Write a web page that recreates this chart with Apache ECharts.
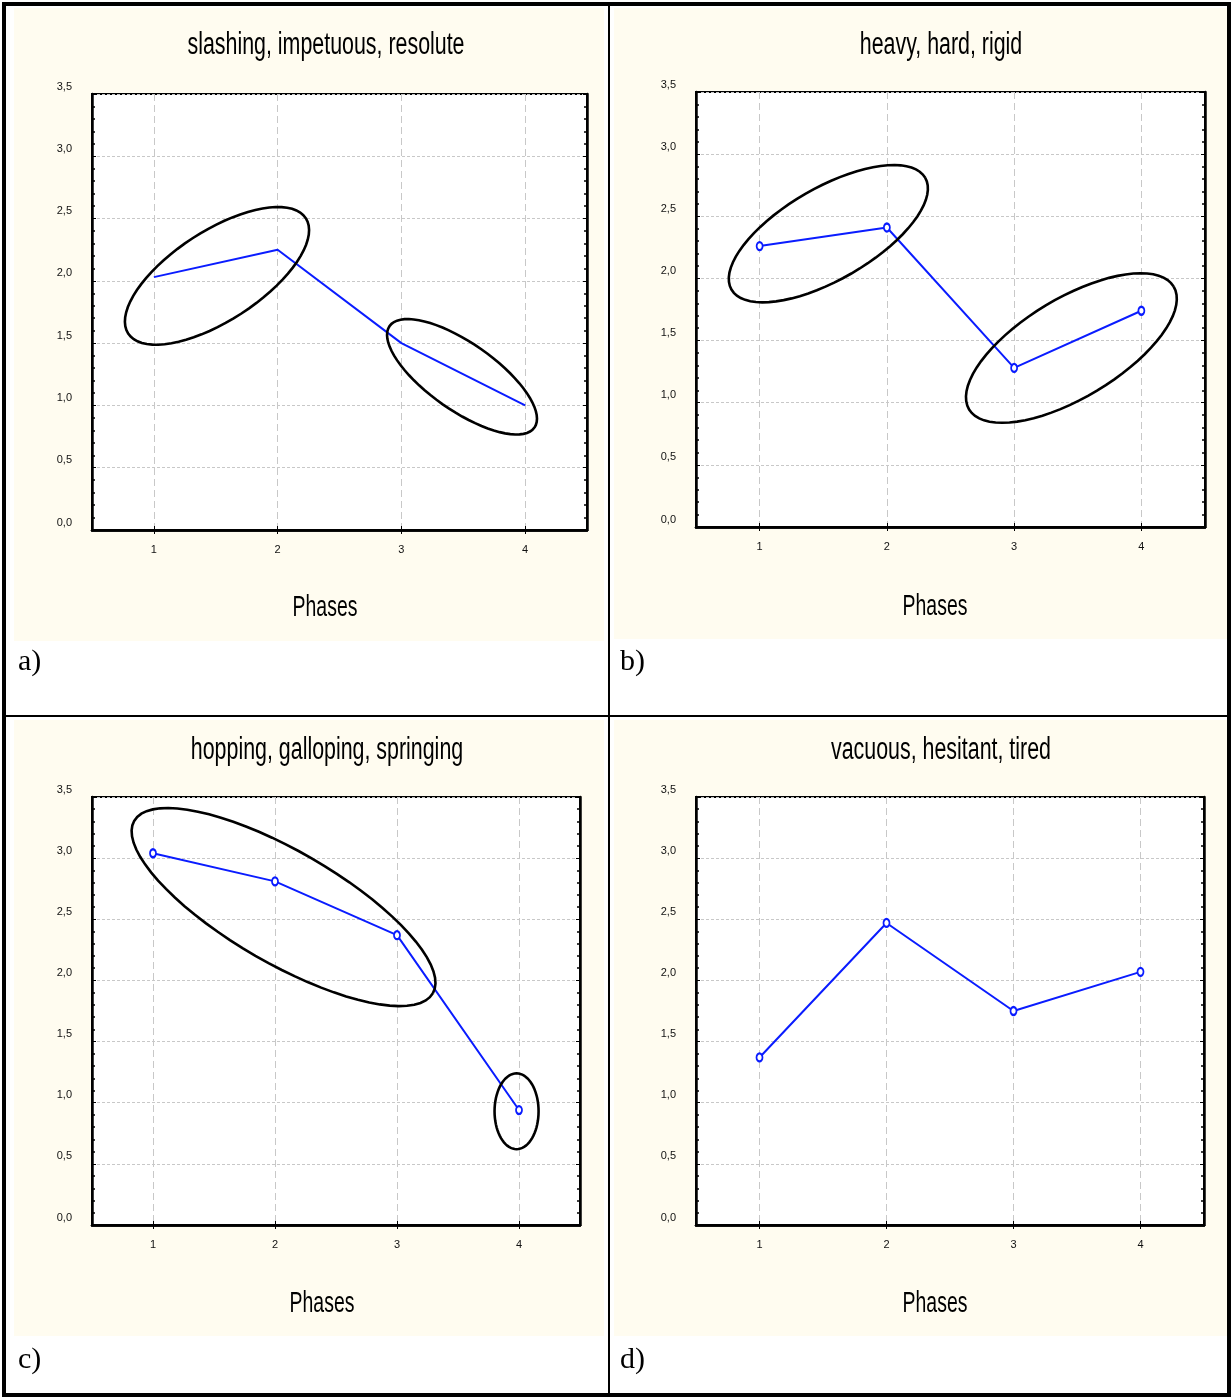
<!DOCTYPE html>
<html>
<head>
<meta charset="utf-8">
<script src="https://cdn.jsdelivr.net/npm/echarts@6/dist/echarts.min.js"></script>
<style>
html, body { margin: 0; padding: 0; background: #fff; }
#chart { width: 1232px; height: 1398px; }
</style>
</head>
<body>
<div id="chart"></div>
<script>
// ---------- data ----------
const CATEGORIES = ['1', '2', '3', '4'];
const TITLES = ['slashing, impetuous, resolute', 'heavy, hard, rigid', 'hopping, galloping, springing', 'vacuous, hesitant, tired'];
const PANEL_TAGS = ['a)', 'b)', 'c)', 'd)'];
const X_NAME = 'Phases';
const Y_MIN = 0, Y_MAX = 3.5, Y_STEP = 0.5;
const RATINGS_A = [2.03, 2.25, 1.50, 1.00];
const RATINGS_B = [2.26, 2.41, 1.28, 1.74];
const RATINGS_C = [3.04, 2.81, 2.37, 0.94];
const RATINGS_D = [1.37, 2.47, 1.75, 2.07];
// group ellipses: [centre phase, centre rating, semi-axis, semi-axis, tilt deg]
const ELLIPSES_A = [[1.51, 2.04, 0.85, 0.36, 33], [3.49, 1.23, 0.71, 0.27, -35]];
const ELLIPSES_B = [[1.54, 2.36, 0.90, 0.37, 30], [3.45, 1.44, 0.96, 0.40, 31]];
const ELLIPSES_C = [[2.07, 2.60, 1.41, 0.46, -30], [3.98, 0.93, 0.18, 0.31, 0]];
const ELLIPSES_D = [];
const SHOW_MARKERS = [false, true, true, true];

// ---------- layout ----------
const SERIES = [RATINGS_A, RATINGS_B, RATINGS_C, RATINGS_D];
const ELLIPSES = [ELLIPSES_A, ELLIPSES_B, ELLIPSES_C, ELLIPSES_D];
const GRIDS = [
  { left: 92, top: 94, width: 495, height: 436 },
  { left: 696, top: 92, width: 509, height: 435 },
  { left: 92, top: 797, width: 488, height: 428 },
  { left: 696, top: 797, width: 508, height: 428 }
];
const CREAM = [
  { x: 14, y: 8, w: 590, h: 633 },
  { x: 614, y: 8, w: 614, h: 631 },
  { x: 14, y: 720, w: 590, h: 616 },
  { x: 614, y: 720, w: 614, h: 616 }
];
const TITLE_POS = [[326, 45], [941, 45], [327, 750], [941, 750]];
const NAME_POS = [[325, 608], [935, 607], [322, 1304], [935, 1304]];
const TAG_POS = [[18, 662], [620, 662], [18, 1360], [620, 1360]];

const SANS = "'Liberation Sans', Arial, sans-serif";
const SERIF = "'Liberation Serif', 'DejaVu Serif', serif";
const BLUE = '#0a1cff';

const grid = GRIDS.map(g => Object.assign({
  show: true, backgroundColor: '#ffffff', borderColor: '#000', borderWidth: 2
}, g));

const xAxis = [];
const yAxis = [];
const series = [];
GRIDS.forEach((g, i) => {
  xAxis.push({
    type: 'category', gridIndex: i, data: CATEGORIES, boundaryGap: true, position: 'bottom',
    axisLine: { show: true, lineStyle: { color: '#000', width: 2.5 } },
    axisTick: { show: true, inside: true, alignWithLabel: true, length: 4, lineStyle: { color: '#000' } },
    axisLabel: { fontFamily: SANS, fontSize: 11, color: '#111', margin: 14 },
    splitLine: { show: true, alignWithLabel: true, lineStyle: { color: '#c8c8c8', type: [7, 4], width: 1 } }
  });
  xAxis.push({
    type: 'category', gridIndex: i, data: CATEGORIES, boundaryGap: true, position: 'top',
    axisLine: { show: true, lineStyle: { color: '#000', width: 2.5 } },
    axisTick: { show: true, inside: true, alignWithLabel: true, length: 4, lineStyle: { color: '#000' } },
    axisLabel: { show: false }, splitLine: { show: false }
  });
  yAxis.push({
    type: 'value', gridIndex: i, min: Y_MIN, max: Y_MAX, interval: Y_STEP, position: 'left',
    axisLine: { show: true, lineStyle: { color: '#000', width: 2.5 } },
    axisTick: { show: true, inside: true, length: 4, lineStyle: { color: '#000' } },
    minorTick: { show: true, splitNumber: 5, length: 3, lineStyle: { color: '#000', width: 1.5 } },
    axisLabel: {
      fontFamily: SANS, fontSize: 11, color: '#111', margin: 20,
      verticalAlign: 'bottom', padding: [0, 0, 2, 0],
      formatter: v => v.toFixed(1).replace('.', ',')
    },
    splitLine: { show: true, lineStyle: { color: '#c8c8c8', type: [3, 2], width: 1 } }
  });
  yAxis.push({
    type: 'value', gridIndex: i, min: Y_MIN, max: Y_MAX, interval: Y_STEP, position: 'right',
    axisLine: { show: true, lineStyle: { color: '#000', width: 2.5 } },
    axisTick: { show: true, inside: true, length: 4, lineStyle: { color: '#000' } },
    minorTick: { show: true, splitNumber: 5, length: 3, lineStyle: { color: '#000', width: 1.5 } },
    axisLabel: { show: false }, splitLine: { show: false }
  });

  series.push({
    type: 'line', xAxisIndex: 2 * i, yAxisIndex: 2 * i, data: SERIES[i],
    showSymbol: SHOW_MARKERS[i], symbol: SHOW_MARKERS[i] ? 'emptyCircle' : 'none', symbolSize: [6, 8],
    lineStyle: { color: BLUE, width: 2 },
    itemStyle: { color: BLUE, borderColor: BLUE, borderWidth: 2 },
    z: 3, animation: false, silent: true
  });

  const list = ELLIPSES[i];
  if (list.length) {
    series.push({
      type: 'custom', xAxisIndex: 2 * i, yAxisIndex: 2 * i,
      data: list.map(() => [0, 0]), z: 4, silent: true, animation: false, clip: false,
      renderItem: function (params, api) {
        const e = list[params.dataIndex];
        const p0 = api.coord([0, 0]);
        const p1 = api.coord([1, 1]);
        const sx = p1[0] - p0[0];
        const sy = p0[1] - p1[1];
        const cx = p0[0] + (e[0] - 1) * sx;
        const cy = p0[1] - e[1] * sy;
        const r = e[4] * Math.PI / 180;
        const pts = [];
        for (let k = 0; k <= 72; k++) {
          const t = 2 * Math.PI * k / 72;
          const ux = e[2] * sy * Math.cos(t);
          const uy = e[3] * sy * Math.sin(t);
          const mx = ux * Math.cos(r) - uy * Math.sin(r);
          const my = ux * Math.sin(r) + uy * Math.cos(r);
          pts.push([cx + mx, cy - my]);
        }
        return {
          type: 'polyline', shape: { points: pts },
          style: { stroke: '#000', lineWidth: 2.6, fill: null }
        };
      }
    });
  }
});

const graphic = [];
CREAM.forEach(c => graphic.push({
  type: 'rect', z: -10, silent: true,
  shape: { x: c.x, y: c.y, width: c.w, height: c.h }, style: { fill: '#fffcf0' }
}));
TITLES.forEach((t, i) => graphic.push({
  type: 'text', x: TITLE_POS[i][0], y: TITLE_POS[i][1], scaleX: 0.69, z: 10, silent: true,
  style: { text: t, fontFamily: SANS, fontSize: 31, fill: '#000', align: 'center', verticalAlign: 'middle' }
}));
NAME_POS.forEach(p => graphic.push({
  type: 'text', x: p[0], y: p[1], scaleX: 0.67, z: 10, silent: true,
  style: { text: X_NAME, fontFamily: SANS, fontSize: 29, fill: '#000', align: 'center', verticalAlign: 'middle' }
}));
PANEL_TAGS.forEach((t, i) => graphic.push({
  type: 'text', x: TAG_POS[i][0], y: TAG_POS[i][1], z: 10, silent: true,
  style: { text: t, fontFamily: SERIF, fontSize: 30, fill: '#000', align: 'left', verticalAlign: 'middle' }
}));
// table rules
graphic.push({ type: 'rect', z: 50, silent: true, shape: { x: 4, y: 4, width: 1225, height: 1391 }, style: { fill: null, stroke: '#000', lineWidth: 4 } });
graphic.push({ type: 'line', z: 50, silent: true, shape: { x1: 609, y1: 4, x2: 609, y2: 1395 }, style: { stroke: '#000', lineWidth: 2 } });
graphic.push({ type: 'line', z: 50, silent: true, shape: { x1: 4, y1: 716, x2: 1229, y2: 716 }, style: { stroke: '#000', lineWidth: 2 } });

const chart = echarts.init(document.getElementById('chart'), null, { renderer: 'canvas' });
chart.setOption({
  animation: false,
  backgroundColor: '#ffffff',
  grid, xAxis, yAxis, series, graphic
});
</script>
</body>
</html>
